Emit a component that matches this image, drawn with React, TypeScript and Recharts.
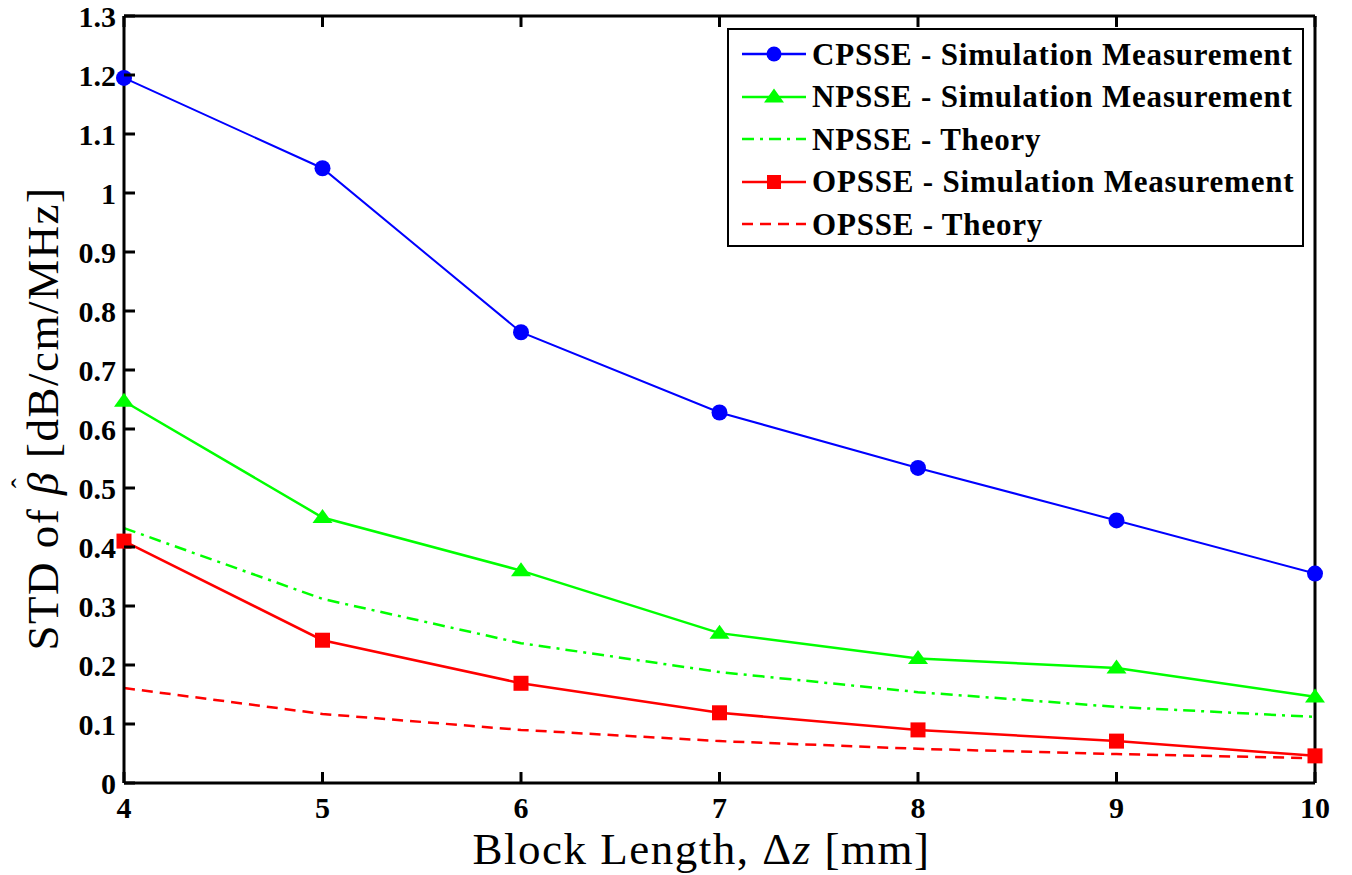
import React from "react";
import {
  LineChart, Line, XAxis, YAxis, Legend, Label,
} from "recharts";

const blockLength = [4, 5, 6, 7, 8, 9, 10];
const cpsseSim = [1.195, 1.042, 0.764, 0.628, 0.534, 0.445, 0.355];
const npsseSim = [0.647, 0.45, 0.36, 0.254, 0.211, 0.195, 0.146];
const npsseTheory = [0.432, 0.312, 0.237, 0.188, 0.154, 0.129, 0.112];
const opsseSim = [0.41, 0.242, 0.169, 0.119, 0.09, 0.071, 0.046];
const opsseTheory = [0.161, 0.117, 0.09, 0.071, 0.058, 0.049, 0.042];

const yTicks = [0, 0.1, 0.2, 0.3, 0.4, 0.5, 0.6, 0.7, 0.8, 0.9, 1, 1.1, 1.2, 1.3];
const xTicks = [4, 5, 6, 7, 8, 9, 10];

const data = blockLength.map((x, i) => ({
  x,
  cpsseSim: cpsseSim[i],
  npsseSim: npsseSim[i],
  npsseTheory: npsseTheory[i],
  opsseSim: opsseSim[i],
  opsseTheory: opsseTheory[i],
}));

const SERIF = "'Liberation Serif', serif";
const BLUE = "#0000ff";
const GREEN = "#00ff00";
const RED = "#ff0000";
const TICK = 11;

const fmt = (v: number) => String(Math.round(v * 10) / 10);

function LeftTick({ x, y, payload }: any) {
  return (
    <g>
      <line x1={x} x2={x + TICK} y1={y} y2={y} stroke="#000" strokeWidth={3} />
      <text x={x - 8} y={y} textAnchor="end" dominantBaseline="central"
        fontFamily={SERIF} fontWeight="bold" fontSize={30} fill="#000">
        {fmt(payload.value)}
      </text>
    </g>
  );
}

function RightTick({ x, y }: any) {
  return <line x1={x} x2={x - TICK} y1={y} y2={y} stroke="#000" strokeWidth={3} />;
}

function BottomTick({ x, y, payload }: any) {
  return (
    <g>
      <line x1={x} x2={x} y1={y} y2={y - TICK} stroke="#000" strokeWidth={3} />
      <text x={x} y={y + 24} textAnchor="middle" dominantBaseline="central"
        fontFamily={SERIF} fontWeight="bold" fontSize={30} fill="#000">
        {payload.value}
      </text>
    </g>
  );
}

function TopTick({ x, y }: any) {
  return <line x1={x} x2={x} y1={y} y2={y + TICK} stroke="#000" strokeWidth={3} />;
}

function YTitle({ viewBox }: any) {
  const cx = viewBox.x + 43;
  const cy = viewBox.y + viewBox.height / 2 + 19;
  return (
    <text x={cx} y={cy} transform={`rotate(-90 ${cx} ${cy})`} textAnchor="middle"
      dominantBaseline="central" fontFamily={SERIF} fontSize={45} letterSpacing={1.5}
      fill="#000">
      STD of <tspan fontStyle="italic">β</tspan>
      <tspan dx={-17} dy={-22} fontSize={30}>ˆ</tspan>
      <tspan dx={6} dy={22}> [dB/cm/MHz]</tspan>
    </text>
  );
}

function XTitle({ viewBox }: any) {
  const cx = viewBox.x + viewBox.width / 2 - 18;
  return (
    <text x={cx} y={viewBox.y + 66} textAnchor="middle" dominantBaseline="central"
      fontFamily={SERIF} fontSize={45} letterSpacing={1.5} fill="#000">
      Block Length, Δ<tspan fontStyle="italic">z</tspan> [mm]
    </text>
  );
}

function Triangle({ cx, cy, fill, w = 10, h = 14 }: any) {
  if (cx == null || cy == null) return null;
  return (
    <path
      d={`M${cx},${cy - h * 0.6} L${cx + w},${cy + h * 0.4} L${cx - w},${cy + h * 0.4} Z`}
      fill={fill}
    />
  );
}

function Square({ cx, cy, fill, size = 7.5 }: any) {
  if (cx == null || cy == null) return null;
  return <rect x={cx - size} y={cy - size} width={size * 2} height={size * 2} fill={fill} />;
}

const legendItems = [
  { label: "CPSSE - Simulation Measurement", color: BLUE, dash: undefined, marker: "circle" },
  { label: "NPSSE - Simulation Measurement", color: GREEN, dash: undefined, marker: "triangle" },
  { label: "NPSSE - Theory", color: GREEN, dash: "12 6 3 6", marker: "none" },
  { label: "OPSSE - Simulation Measurement", color: RED, dash: undefined, marker: "square" },
  { label: "OPSSE - Theory", color: RED, dash: "11 7", marker: "none" },
];

function LegendBox() {
  return (
    <div style={{
      border: "2.5px solid #000", background: "#fff", padding: "3px 0 0 0",
      boxSizing: "border-box", width: 577, height: 219,
    }}>
      {legendItems.map((it) => (
        <div key={it.label} style={{ display: "flex", alignItems: "center", height: 42.5 }}>
          <svg width={83} height={30} style={{ flex: "none" }}>
            <line x1={13} x2={77} y1={15} y2={15} stroke={it.color} strokeWidth={2.5}
              strokeDasharray={it.dash} />
            {it.marker === "circle" && <circle cx={45} cy={15} r={7.5} fill={it.color} />}
            {it.marker === "triangle" && <Triangle cx={45} cy={15} fill={it.color} w={10} h={14} />}
            {it.marker === "square" && <Square cx={45} cy={15} fill={it.color} size={7} />}
          </svg>
          <span style={{
            fontFamily: SERIF, fontWeight: "bold", fontSize: 31, color: "#000",
            whiteSpace: "nowrap", lineHeight: 1, letterSpacing: 0.8,
          }}>
            {it.label}
          </span>
        </div>
      ))}
    </div>
  );
}

export default function App() {
  return (
    <div style={{ position: "absolute", left: 0, top: 0, background: "#fff" }}>
      <LineChart width={1352} height={875} data={data}
        margin={{ top: 15, right: 0, left: 0, bottom: 0 }}>
        <XAxis xAxisId="bottom" dataKey="x" type="number" domain={[4, 10]} ticks={xTicks}
          height={92} tickSize={0} tickMargin={0} tickLine={false} interval={0}
          axisLine={{ stroke: "#000", strokeWidth: 3 }} tick={<BottomTick />}>
          <Label content={<XTitle />} />
        </XAxis>
        <XAxis xAxisId="top" orientation="top" dataKey="x" type="number" domain={[4, 10]}
          ticks={xTicks} height={1} tickSize={0} tickMargin={0} tickLine={false} interval={0}
          axisLine={{ stroke: "#000", strokeWidth: 3 }} tick={<TopTick />} />
        <YAxis yAxisId="left" type="number" domain={[0, 1.3]} ticks={yTicks} width={124}
          tickSize={0} tickMargin={0} tickLine={false} interval={0}
          axisLine={{ stroke: "#000", strokeWidth: 3 }} tick={<LeftTick />}>
          <Label content={<YTitle />} />
        </YAxis>
        <YAxis yAxisId="right" orientation="right" type="number" domain={[0, 1.3]}
          ticks={yTicks} width={37} tickSize={0} tickMargin={0} tickLine={false} interval={0}
          axisLine={{ stroke: "#000", strokeWidth: 3 }} tick={<RightTick />} />
        <Legend content={<LegendBox />} layout="horizontal" verticalAlign="middle" align="center"
          wrapperStyle={{ position: "absolute", left: 727, top: 28, width: 577, height: 219 }} />
        <Line xAxisId="bottom" yAxisId="left" dataKey="opsseTheory" stroke={RED}
          strokeWidth={2.5} strokeDasharray="11 7" dot={false} isAnimationActive={false} />
        <Line xAxisId="bottom" yAxisId="left" dataKey="npsseTheory" stroke={GREEN}
          strokeWidth={2.5} strokeDasharray="12 6 3 6" dot={false} isAnimationActive={false} />
        <Line xAxisId="bottom" yAxisId="left" dataKey="opsseSim" stroke={RED}
          strokeWidth={2.5} dot={<Square fill={RED} />} isAnimationActive={false} />
        <Line xAxisId="bottom" yAxisId="left" dataKey="npsseSim" stroke={GREEN}
          strokeWidth={2.5} dot={<Triangle fill={GREEN} />} isAnimationActive={false} />
        <Line xAxisId="bottom" yAxisId="left" dataKey="cpsseSim" stroke={BLUE}
          strokeWidth={2} dot={{ r: 8, fill: BLUE, stroke: BLUE, strokeWidth: 0 }}
          isAnimationActive={false} />
      </LineChart>
    </div>
  );
}
